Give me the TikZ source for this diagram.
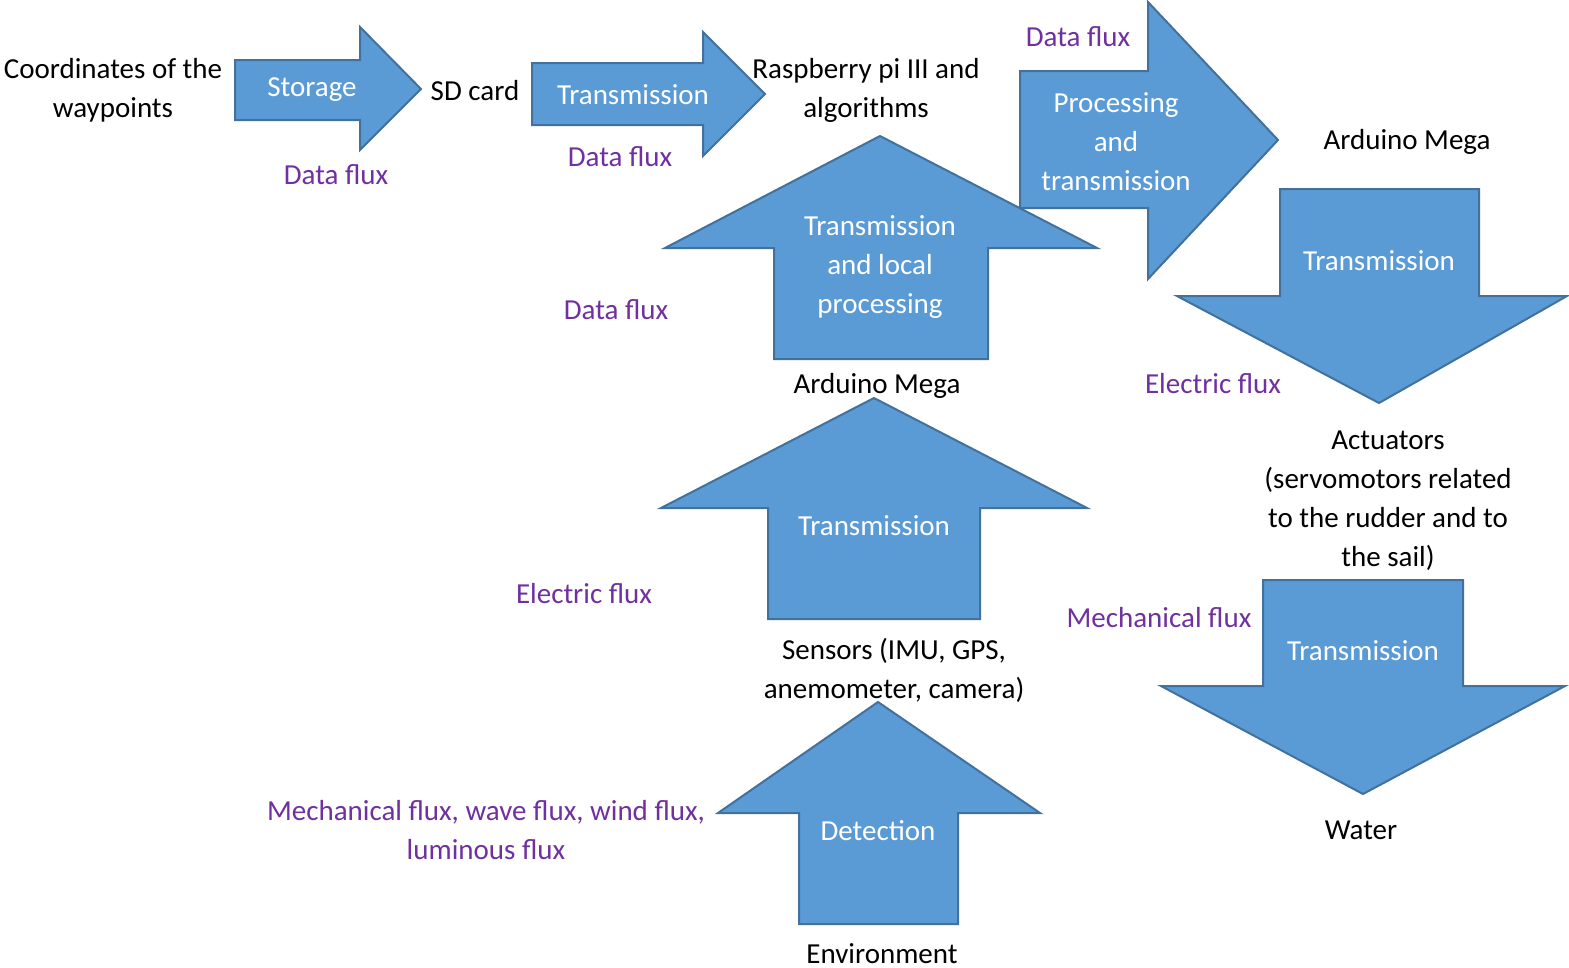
\documentclass[tikz,border=0pt]{standalone}
\usepackage{fontspec}
\setmainfont{Carlito}
\definecolor{arrfill}{HTML}{5B9BD5}
\definecolor{arrline}{HTML}{41719C}
\definecolor{fluxcol}{HTML}{7030A0}
\begin{document}
\begin{tikzpicture}[x=1pt,y=-1pt,
 blockarrow/.style={fill=arrfill,draw=arrline,line width=2pt,line join=miter},
 txt/.style={font=\fontsize{29}{39}\selectfont,align=center,inner sep=0pt,text=black,yshift=-2pt},
 intxt/.style={txt,text=white},
 flux/.style={txt,text=fluxcol}]
\useasboundingbox[fill=white] (0,0) rectangle (1569,967);

% block arrows
\path[blockarrow] (235,60)--(360,60)--(360,27)--(421,89)--(360,150)--(360,120)--(235,120)--cycle;
\path[blockarrow] (532,63)--(703,63)--(703,32)--(765,94)--(703,156)--(703,125)--(532,125)--cycle;
\path[blockarrow] (774,359)--(774,248)--(665,248)--(880,136)--(1097,248)--(988,248)--(988,359)--cycle;
\path[blockarrow] (1020,71)--(1148,71)--(1148,2)--(1278,140)--(1148,279)--(1148,208)--(1020,208)--cycle;
\path[blockarrow] (1280,189)--(1479,189)--(1479,296)--(1567,296)--(1379,403)--(1177,296)--(1280,296)--cycle;
\path[blockarrow] (768,619)--(768,508)--(661,508)--(874,398)--(1087,508)--(980,508)--(980,619)--cycle;
\path[blockarrow] (1263,580)--(1463,580)--(1463,686)--(1565,686)--(1363,794)--(1161,686)--(1263,686)--cycle;
\path[blockarrow] (799,924)--(799,813)--(718,813)--(878,702)--(1040,813)--(958,813)--(958,924)--cycle;

% texts inside arrows
\node[intxt] (storage) at (312,88) {Storage};
\node[intxt] (trans1) at (633,93) {Transmission};
\node[intxt] (proc) at (1116,140) {Processing\\and\\transmission};
\node[intxt] (translocal) at (880,265) {Transmission\\and local\\processing};
\node[intxt] (trans2) at (1379,259) {Transmission};
\node[intxt] (trans3) at (874,524) {Transmission};
\node[intxt] (trans4) at (1363,649) {Transmission};
\node[intxt] (detect) at (878,829) {Detection};

% black labels
\node[txt] (coord) at (113,88) {Coordinates of the\\waypoints};
\node[txt] (sd) at (475,89) {SD card};
\node[txt] (rasp) at (866,88) {Raspberry pi III and\\algorithms};
\node[txt] (mega1) at (1407,140) {Arduino Mega};
\node[txt] (mega2) at (877,384) {Arduino Mega};
\node[txt] (act) at (1388,499) {Actuators\\(servomotors related\\to the rudder and to\\the sail)};
\node[txt] (sensors) at (894,668) {Sensors (IMU, GPS,\\anemometer, camera)};
\node[txt] (water) at (1361,828) {Water};
\node[txt] (env) at (882,952) {Environment};

% flux labels
\node[flux] (f1) at (336,173) {Data flux};
\node[flux] (f2) at (620,155) {Data flux};
\node[flux] (f3) at (1078,35) {Data flux};
\node[flux] (f4) at (616,308) {Data flux};
\node[flux] (f5) at (1213,382) {Electric flux};
\node[flux] (f6) at (584,592) {Electric flux};
\node[flux] (f7) at (1159,616) {Mechanical flux};
\node[flux] (f8) at (486,828) {Mechanical flux, wave flux, wind flux,\\luminous flux};
\end{tikzpicture}
\end{document}
